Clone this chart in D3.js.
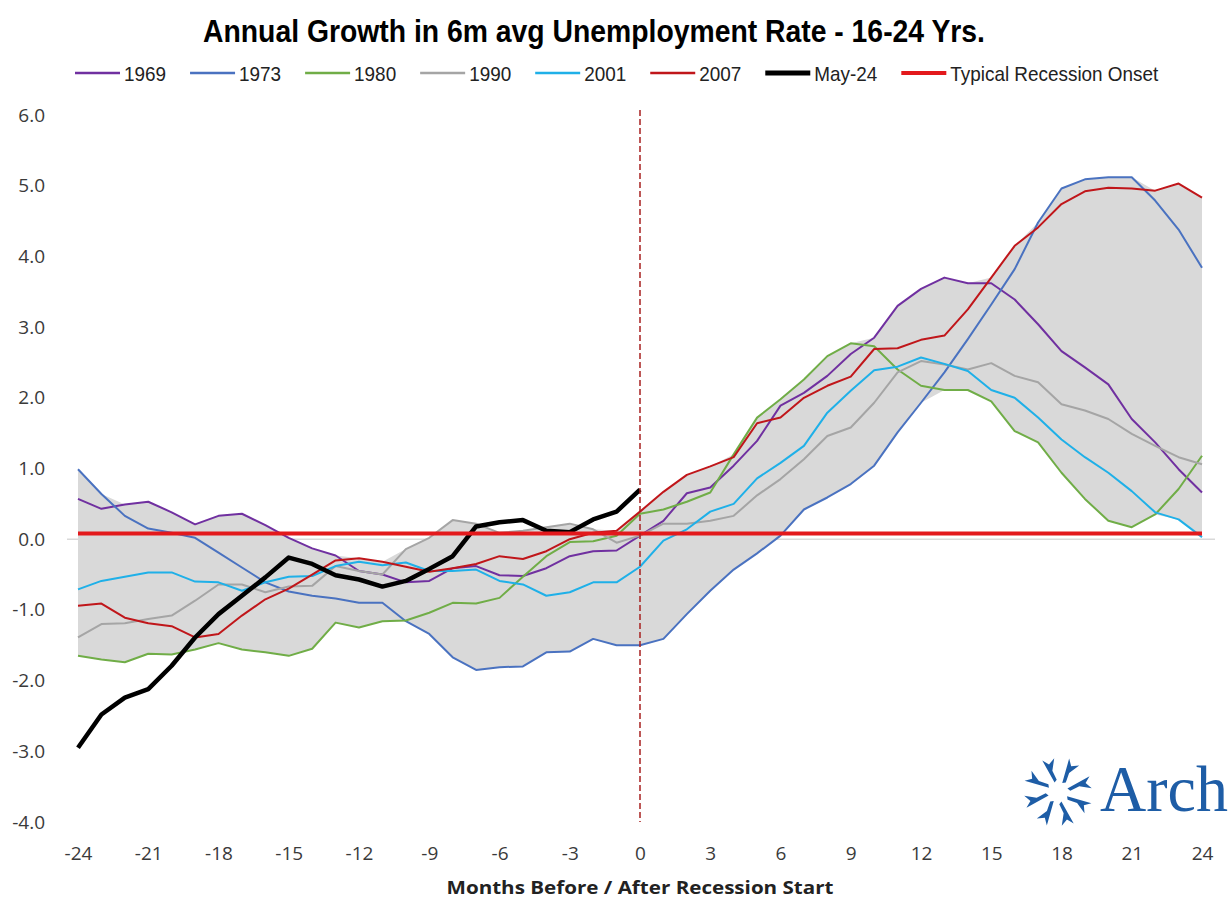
<!DOCTYPE html>
<meta charset="utf-8">
<script src="https://d3js.org/d3.v7.min.js"></script>
<style>
  body { margin: 0; background: #fff; }
</style>
<div id="chart"></div>
<script>
// months before / after recession start
const months = [-24,-23,-22,-21,-20,-19,-18,-17,-16,-15,-14,-13,-12,-11,-10,-9,-8,-7,-6,-5,-4,-3,-2,-1,0,
                1,2,3,4,5,6,7,8,9,10,11,12,13,14,15,16,17,18,19,20,21,22,23,24];

const s1969 = [0.57,0.43,0.49,0.53,0.38,0.21,0.33,0.36,0.20,0.02,-0.13,-0.23,-0.45,-0.50,-0.61,-0.59,-0.41,-0.38,-0.51,-0.52,
               -0.41,-0.24,-0.17,-0.16,0.05,0.26,0.65,0.73,1.04,1.39,1.89,2.07,2.31,2.62,2.85,3.30,3.54,3.70,3.62,3.62,
               3.39,3.04,2.66,2.43,2.19,1.70,1.37,0.99,0.66];
const s1973 = [0.99,0.64,0.33,0.15,0.09,0.02,-0.19,-0.40,-0.61,-0.74,-0.80,-0.84,-0.90,-0.90,-1.16,-1.34,-1.67,-1.85,-1.81,-1.80,
               -1.60,-1.59,-1.41,-1.50,-1.50,-1.41,-1.06,-0.73,-0.43,-0.20,0.05,0.42,0.59,0.78,1.04,1.51,1.93,2.36,2.83,3.32,
               3.82,4.48,4.96,5.09,5.12,5.12,4.79,4.38,3.84];
const s1980 = [-1.65,-1.70,-1.74,-1.62,-1.63,-1.56,-1.47,-1.56,-1.60,-1.65,-1.55,-1.18,-1.25,-1.16,-1.15,-1.04,-0.90,-0.91,-0.83,-0.53,
               -0.24,-0.04,-0.03,0.05,0.36,0.42,0.53,0.66,1.20,1.72,1.98,2.26,2.59,2.77,2.73,2.40,2.17,2.11,2.11,1.95,
               1.53,1.37,0.94,0.57,0.26,0.17,0.35,0.71,1.18];
const s1990 = [-1.39,-1.20,-1.19,-1.13,-1.08,-0.87,-0.64,-0.64,-0.75,-0.67,-0.66,-0.38,-0.45,-0.50,-0.14,0.02,0.27,0.22,0.09,0.12,
               0.17,0.22,0.14,-0.05,0.05,0.22,0.22,0.26,0.33,0.62,0.85,1.13,1.46,1.58,1.93,2.36,2.52,2.47,2.40,2.49,
               2.31,2.22,1.91,1.82,1.70,1.49,1.32,1.16,1.06];
const s2001 = [-0.71,-0.59,-0.53,-0.47,-0.47,-0.60,-0.61,-0.73,-0.61,-0.53,-0.52,-0.38,-0.32,-0.37,-0.33,-0.45,-0.45,-0.43,-0.59,-0.64,
               -0.80,-0.75,-0.61,-0.61,-0.39,-0.02,0.14,0.39,0.50,0.86,1.08,1.32,1.79,2.10,2.39,2.44,2.57,2.48,2.38,2.11,
               2.00,1.72,1.41,1.16,0.94,0.68,0.38,0.28,0.03];
const s2007 = [-0.94,-0.91,-1.11,-1.19,-1.23,-1.39,-1.34,-1.08,-0.85,-0.70,-0.50,-0.30,-0.27,-0.32,-0.39,-0.46,-0.41,-0.35,-0.24,-0.28,
               -0.17,0.00,0.09,0.12,0.39,0.67,0.91,1.03,1.16,1.64,1.72,2.00,2.17,2.30,2.69,2.70,2.82,2.88,3.25,3.70,
               4.15,4.41,4.74,4.92,4.97,4.96,4.93,5.03,4.83];
// current cycle, up to month 0
const may24 = [-2.95,-2.48,-2.24,-2.12,-1.79,-1.39,-1.06,-0.80,-0.54,-0.26,-0.35,-0.51,-0.57,-0.67,-0.59,-0.42,-0.24,0.18,0.24,0.27,
               0.12,0.10,0.28,0.39,0.70];
const onsetLevel = 0.08;

const xTicks = [-24,-21,-18,-15,-12,-9,-6,-3,0,3,6,9,12,15,18,21,24];
const yTicks = [-4,-3,-2,-1,0,1,2,3,4,5,6];

const width = 1232, height = 899;

const svg = d3.select("#chart")
  .append("svg")
    .attr("width", width)
    .attr("height", height);

const x = d3.scaleLinear().domain([-24, 24]).range([78, 1202]);
const y = d3.scaleLinear().domain([-4, 6]).range([822, 115]);

const series = [
  {name: "1969", values: s1969, color: "#7030A0"},
  {name: "1973", values: s1973, color: "#4A72C0"},
  {name: "1980", values: s1980, color: "#70AD47"},
  {name: "1990", values: s1990, color: "#A5A5A5"},
  {name: "2001", values: s2001, color: "#1FB0E8"},
  {name: "2007", values: s2007, color: "#C0161A"}
];

// shaded range of past cycles
const band = months.map((m, i) => {
  const vals = series.map(s => s.values[i]);
  return {m: m, lo: d3.min(vals), hi: d3.max(vals)};
});
svg.append("path")
  .datum(band)
  .attr("fill", "#D9D9D9")
  .attr("d", d3.area()
    .x(d => x(d.m))
    .y0(d => y(d.lo))
    .y1(d => y(d.hi)));

// zero axis
svg.append("line")
  .attr("x1", x(-24) - 11).attr("x2", x(24) + 13)
  .attr("y1", y(0)).attr("y2", y(0))
  .attr("stroke", "#D9D9D9")
  .attr("stroke-width", 1.5);

const line = d3.line()
  .x((d, i) => x(months[i]))
  .y(d => y(d));

svg.append("g")
  .selectAll("path")
  .data(series)
  .join("path")
    .attr("fill", "none")
    .attr("stroke", d => d.color)
    .attr("stroke-width", 2)
    .attr("stroke-linejoin", "round")
    .attr("d", d => line(d.values));

svg.append("path")
  .datum(may24)
  .attr("fill", "none")
  .attr("stroke", "#000")
  .attr("stroke-width", 4.5)
  .attr("stroke-linejoin", "round")
  .attr("d", line);

// typical recession onset
svg.append("line")
  .attr("x1", x(-24)).attr("x2", x(24))
  .attr("y1", y(onsetLevel)).attr("y2", y(onsetLevel))
  .attr("stroke", "#E3191C")
  .attr("stroke-width", 4);

// recession start marker
svg.append("line")
  .attr("x1", x(0)).attr("x2", x(0))
  .attr("y1", y(6) - 5).attr("y2", y(-4))
  .attr("stroke", "#A8201F")
  .attr("stroke-width", 1.5)
  .attr("stroke-dasharray", "6,3");

// axes
const tickFont = "'Open Sans', sans-serif";
const xAxis = svg.append("g")
  .attr("transform", `translate(0,${y(-4)})`)
  .call(d3.axisBottom(x).tickValues(xTicks).tickSize(0).tickPadding(25).tickFormat(d => String(d)));
xAxis.select(".domain").remove();
xAxis.selectAll("text")
  .attr("font-family", tickFont)
  .attr("font-size", 19)
  .attr("fill", "#3a3a3a");

const yAxis = svg.append("g")
  .attr("transform", "translate(45,0)")
  .call(d3.axisLeft(y).tickValues(yTicks).tickSize(0).tickPadding(0).tickFormat(d => d.toFixed(1)));
yAxis.select(".domain").remove();
yAxis.selectAll("text")
  .attr("font-family", tickFont)
  .attr("font-size", 19)
  .attr("fill", "#3a3a3a");

svg.append("text")
  .attr("x", 640).attr("y", 894)
  .attr("text-anchor", "middle")
  .attr("font-family", tickFont)
  .attr("font-weight", "bold")
  .attr("font-size", 18)
  .attr("textLength", 387)
  .attr("lengthAdjust", "spacingAndGlyphs")
  .attr("fill", "#222")
  .text("Months Before / After Recession Start");

// title
svg.append("text")
  .attr("x", 594).attr("y", 42)
  .attr("text-anchor", "middle")
  .attr("font-family", "'Liberation Sans Narrow', 'Arial Narrow', sans-serif")
  .attr("font-weight", "bold")
  .attr("font-size", 31)
  .attr("textLength", 782)
  .attr("lengthAdjust", "spacingAndGlyphs")
  .attr("fill", "#000")
  .text("Annual Growth in 6m avg Unemployment Rate - 16-24 Yrs.");

// legend
const legendItems = series.map(s => ({name: s.name, color: s.color, w: 2.5}))
  .concat([{name: "May-24", color: "#000", w: 5},
           {name: "Typical Recession Onset", color: "#E3191C", w: 4}]);
let cursor = 75;
const legend = svg.append("g");
legendItems.forEach(it => {
  legend.append("line")
    .attr("x1", cursor).attr("x2", cursor + 45)
    .attr("y1", 73).attr("y2", 73)
    .attr("stroke", it.color)
    .attr("stroke-width", it.w);
  const t = legend.append("text")
    .attr("x", cursor + 49).attr("y", 81)
    .attr("font-family", "'Liberation Sans Narrow', 'Arial Narrow', sans-serif")
    .attr("font-size", 21)
    .attr("fill", "#222")
    .text(it.name);
  const w = t.node().getComputedTextLength() * 0.9;
  t.attr("textLength", w).attr("lengthAdjust", "spacingAndGlyphs");
  cursor = cursor + 49 + w + 24;
});

// Arch logo
const logo = svg.append("g").attr("transform", "translate(1058,792)");
d3.range(8).forEach(k => {
  logo.append("path")
    .attr("transform", `rotate(${k * 45 - 20})`)
    .attr("d", "M10,0 L35,-4 L29,1 L33,8 L22,2 L12,3 Z")
    .attr("fill", "#1E5DA6");
});
svg.append("text")
  .attr("x", 1100).attr("y", 811)
  .attr("font-family", "'Liberation Serif', 'DejaVu Serif', serif")
  .attr("font-size", 66)
  .attr("textLength", 128)
  .attr("lengthAdjust", "spacingAndGlyphs")
  .attr("fill", "#1E5DA6")
  .text("Arch");
</script>
